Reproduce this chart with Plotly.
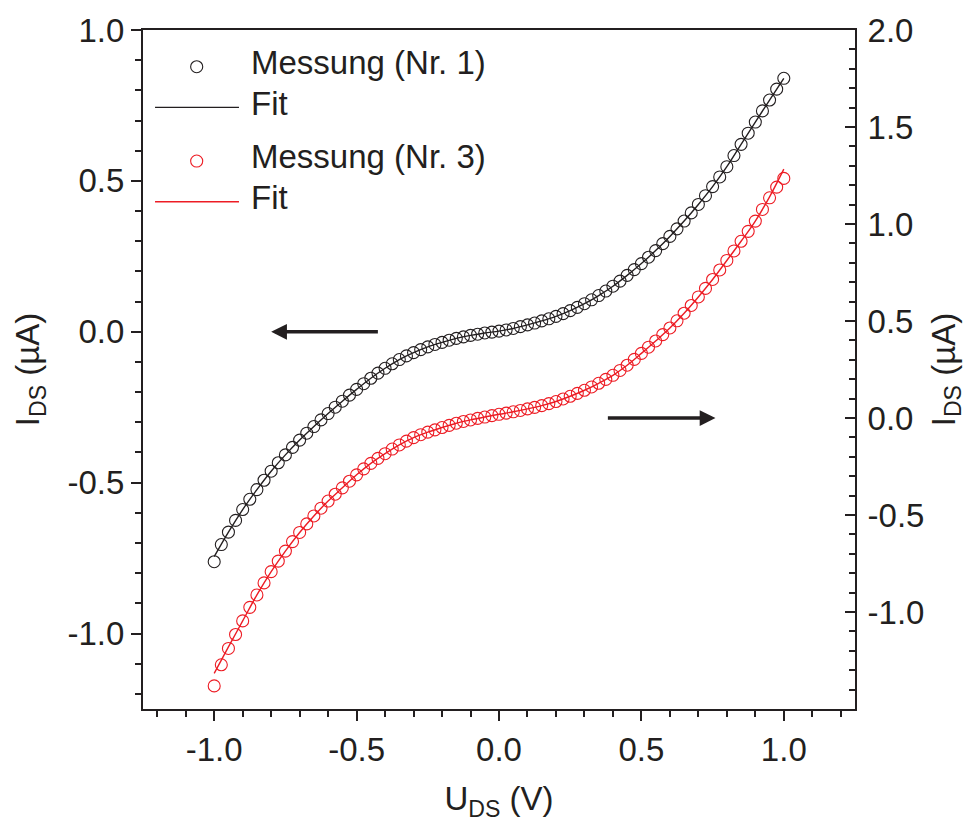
import plotly.graph_objects as go

# ---------------- data ----------------
u_meas = [-1.0, -0.975, -0.95, -0.925, -0.9, -0.875, -0.85, -0.825, -0.8, -0.775,
          -0.75, -0.725, -0.7, -0.675, -0.65, -0.625, -0.6, -0.575, -0.55, -0.525,
          -0.5, -0.475, -0.45, -0.425, -0.4, -0.375, -0.35, -0.325, -0.3, -0.275,
          -0.25, -0.225, -0.2, -0.175, -0.15, -0.125, -0.1, -0.075, -0.05, -0.025,
          0.0, 0.025, 0.05, 0.075, 0.1, 0.125, 0.15, 0.175, 0.2, 0.225,
          0.25, 0.275, 0.3, 0.325, 0.35, 0.375, 0.4, 0.425, 0.45, 0.475,
          0.5, 0.525, 0.55, 0.575, 0.6, 0.625, 0.65, 0.675, 0.7, 0.725,
          0.75, 0.775, 0.8, 0.825, 0.85, 0.875, 0.9, 0.925, 0.95, 0.975, 1.0]

# Messung (Nr. 1) -> left axis
i_nr1 = [-0.762, -0.705, -0.664, -0.625, -0.589, -0.555, -0.523, -0.492, -0.462, -0.434,
         -0.408, -0.383, -0.359, -0.336, -0.314, -0.292, -0.271, -0.250, -0.230, -0.210,
         -0.191, -0.172, -0.154, -0.137, -0.121, -0.106, -0.092, -0.080, -0.069, -0.059,
         -0.050, -0.042, -0.035, -0.028, -0.022, -0.017, -0.012, -0.008, -0.004, -0.001,
         0.002, 0.006, 0.011, 0.017, 0.023, 0.029, 0.036, 0.043, 0.051, 0.060,
         0.070, 0.081, 0.093, 0.106, 0.120, 0.135, 0.151, 0.168, 0.187, 0.206,
         0.226, 0.247, 0.269, 0.292, 0.316, 0.341, 0.367, 0.394, 0.422, 0.451,
         0.481, 0.513, 0.547, 0.584, 0.621, 0.658, 0.695, 0.732, 0.768, 0.804, 0.840]

# Messung (Nr. 3) -> right axis
i_nr3 = [-1.381, -1.272, -1.188, -1.116, -1.046, -0.976, -0.912, -0.850, -0.792, -0.738,
         -0.686, -0.637, -0.590, -0.546, -0.505, -0.465, -0.428, -0.393, -0.360, -0.326,
         -0.293, -0.262, -0.234, -0.208, -0.184, -0.160, -0.139, -0.119, -0.101, -0.086,
         -0.073, -0.061, -0.049, -0.038, -0.027, -0.018, -0.010, -0.002, 0.005, 0.012,
         0.019, 0.025, 0.032, 0.039, 0.047, 0.055, 0.064, 0.074, 0.085, 0.098,
         0.112, 0.127, 0.143, 0.160, 0.179, 0.199, 0.220, 0.245, 0.272, 0.302,
         0.333, 0.365, 0.397, 0.430, 0.464, 0.501, 0.540, 0.580, 0.624, 0.668,
         0.714, 0.763, 0.812, 0.861, 0.911, 0.962, 1.015, 1.075, 1.135, 1.190, 1.235]

u_fit = [-1.0, -0.95, -0.9, -0.85, -0.8, -0.75, -0.7, -0.65, -0.6, -0.55,
         -0.5, -0.45, -0.4, -0.35, -0.3, -0.25, -0.2, -0.15, -0.1, -0.05,
         0.0, 0.05, 0.1, 0.15, 0.2, 0.25, 0.3, 0.35, 0.4, 0.45,
         0.5, 0.55, 0.6, 0.65, 0.7, 0.75, 0.8, 0.85, 0.9, 0.95, 1.0]

fit_nr1 = [-0.745, -0.664, -0.589, -0.523, -0.462, -0.408, -0.359, -0.314, -0.271, -0.230,
           -0.191, -0.154, -0.121, -0.092, -0.069, -0.050, -0.035, -0.022, -0.012, -0.004,
           0.002, 0.011, 0.023, 0.036, 0.051, 0.070, 0.093, 0.120, 0.151, 0.187,
           0.226, 0.269, 0.316, 0.367, 0.422, 0.481, 0.547, 0.621, 0.695, 0.768, 0.840]

fit_nr3 = [-1.316, -1.180, -1.046, -0.912, -0.792, -0.686, -0.590, -0.505, -0.428, -0.360,
           -0.293, -0.234, -0.184, -0.139, -0.101, -0.073, -0.049, -0.027, -0.010, 0.005,
           0.019, 0.032, 0.047, 0.064, 0.085, 0.112, 0.143, 0.179, 0.220, 0.272,
           0.333, 0.397, 0.464, 0.540, 0.624, 0.714, 0.812, 0.911, 1.015, 1.140, 1.283]

x_ticks = [-1.0, -0.5, 0.0, 0.5, 1.0]
y_left_ticks = [-1.0, -0.5, 0.0, 0.5, 1.0]
y_right_ticks = [-1.0, -0.5, 0.0, 0.5, 1.0, 1.5, 2.0]

legend_labels = ["Messung (Nr. 1)", "Fit", "Messung (Nr. 3)", "Fit"]

# ---------------- styling ----------------
BLACK = "#231f20"
RED = "#ed1c24"
FONT = "Liberation Sans, Arial, Helvetica, sans-serif"
FS = 33


def fmt(v):
    return f"{v:.1f}"


fig = go.Figure()
fig.add_trace(go.Scatter(x=u_fit, y=fit_nr1, mode="lines", line=dict(color=BLACK, width=1.4, shape="spline"),
                         yaxis="y", showlegend=False, hoverinfo="skip"))
fig.add_trace(go.Scatter(x=u_meas, y=i_nr1, mode="markers",
                         marker=dict(symbol="circle-open", size=12, color=BLACK, line=dict(width=1.1, color=BLACK)),
                         yaxis="y", showlegend=False))
fig.add_trace(go.Scatter(x=u_fit, y=fit_nr3, mode="lines", line=dict(color=RED, width=1.4, shape="spline"),
                         yaxis="y2", showlegend=False, hoverinfo="skip"))
fig.add_trace(go.Scatter(x=u_meas, y=i_nr3, mode="markers",
                         marker=dict(symbol="circle-open", size=12, color=RED, line=dict(width=1.1, color=RED)),
                         yaxis="y2", showlegend=False))

axis_common = dict(showgrid=False, zeroline=False, showline=True, linewidth=2, linecolor=BLACK,
                   tickwidth=2, tickcolor=BLACK, ticklen=10,
                   tickfont=dict(family=FONT, size=FS, color=BLACK))

fig.update_layout(
    width=976, height=826,
    margin=dict(l=143, r=121, t=25, b=117, pad=0),
    paper_bgcolor="white", plot_bgcolor="white",
    font=dict(family=FONT, size=FS, color=BLACK),
    showlegend=False,
    xaxis=dict(range=[-1.25, 1.25], tickmode="array", tickvals=x_ticks, ticktext=[fmt(v) for v in x_ticks],
               ticks="outside", mirror=True,
               minor=dict(ticks="outside", ticklen=6, tickwidth=2, tickcolor=BLACK, tickmode="linear", tick0=0, dtick=0.1),
               title=dict(text="U<sub>DS</sub> (V)", font=dict(family=FONT, size=FS, color=BLACK), standoff=20),
               **axis_common),
    yaxis=dict(range=[-1.25, 1.0], tickmode="array", tickvals=y_left_ticks, ticktext=[fmt(v) for v in y_left_ticks],
               ticks="outside",
               minor=dict(ticks="outside", ticklen=6, tickwidth=2, tickcolor=BLACK, tickmode="linear", tick0=0, dtick=0.1),
               title=dict(text="I<sub>DS</sub> (µA)", font=dict(family=FONT, size=FS, color=BLACK), standoff=18),
               **axis_common),
    yaxis2=dict(range=[-1.5, 2.0], overlaying="y", side="right", anchor="x",
                tickmode="array", tickvals=y_right_ticks, ticktext=[fmt(v) for v in y_right_ticks],
                ticks="inside", ticklabelstandoff=4,
                minor=dict(ticks="inside", ticklen=6, tickwidth=2, tickcolor=BLACK, tickmode="linear", tick0=0, dtick=0.1),
                title=dict(text="I<sub>DS</sub> (µA)", font=dict(family=FONT, size=FS, color=BLACK), standoff=8),
                **axis_common),
)

# arrows indicating which axis each curve belongs to
fig.add_annotation(x=-0.80, y=0.0, xref="x", yref="y", ax=-0.42, ay=0.0, axref="x", ayref="y",
                   text="", showarrow=True, arrowhead=2, arrowsize=0.9, arrowwidth=3.5, arrowcolor=BLACK)
fig.add_annotation(x=0.76, y=0.0, xref="x", yref="y2", ax=0.377, ay=0.0, axref="x", ayref="y2",
                   text="", showarrow=True, arrowhead=2, arrowsize=0.9, arrowwidth=3.5, arrowcolor=BLACK)

# custom legend (long line samples like the original)
rows_y = [0.9459, 0.886, 0.807, 0.747]
row_kind = ["marker", "line", "marker", "line"]
row_color = [BLACK, BLACK, RED, RED]
cx, rx, ry = 0.0754, 0.0085, 0.0088
for yy, kind, col, lab in zip(rows_y, row_kind, row_color, legend_labels):
    if kind == "marker":
        fig.add_shape(type="circle", xref="paper", yref="paper", x0=cx - rx, x1=cx + rx, y0=yy - ry, y1=yy + ry,
                      line=dict(color=col, width=1.1))
    else:
        fig.add_shape(type="line", xref="paper", yref="paper", x0=0.0169, x1=0.1348, y0=yy, y1=yy,
                      line=dict(color=col, width=1.4))
    fig.add_annotation(x=0.1489, y=yy + 0.006, xref="paper", yref="paper", text=lab, showarrow=False,
                       xanchor="left", yanchor="middle", font=dict(family=FONT, size=FS, color=BLACK))

fig.write_html("out.html")
